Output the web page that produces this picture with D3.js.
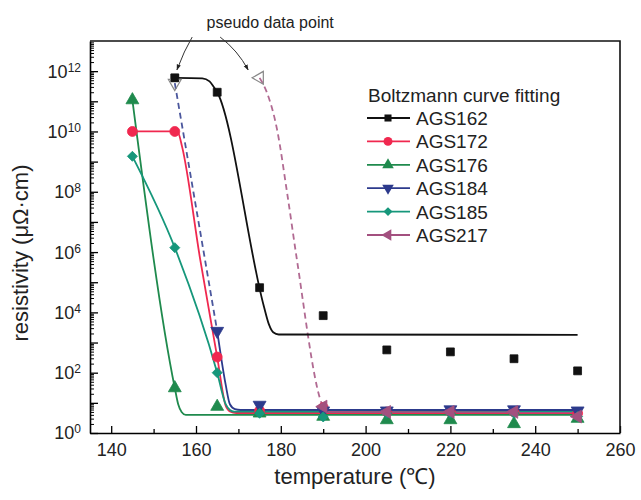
<!DOCTYPE html>
<html><head><meta charset="utf-8">
<script src="https://cdn.jsdelivr.net/npm/d3@7"></script>
<style>body{margin:0;background:#fff;} svg{display:block;font-family:Arial,"Liberation Sans",sans-serif;}</style>
</head><body><svg id="c" width="641" height="500"></svg>
<script>
// ---------- data ----------
const seriesNames = ["AGS162","AGS172","AGS176","AGS184","AGS185","AGS217"];
const ags162T = [155,165,175,190,205,220,235,250];
const ags162R = [6e11,2e11,6.6e4,7.8e3,5.7e2,4.9e2,2.9e2,1.15e2];
const ags172T = [145,155,165,175,190,205,220,235,250];
const ags172R = [1e10,1e10,330,5.5,7,5,5,5,4.5];
const ags176T = [145,155,165,175,190,205,220,235,250];
const ags176R = [1.1e11,31,7.5,4.5,3.5,2.7,2.7,2.0,3.0];
const ags184T = [165,175,190,205,220,235,250];
const ags184R = [2.4e3,8.5,5.5,5.5,6,6,5.5];
const ags185T = [145,155,165,175,190,205,220,235,250];
const ags185R = [1.5e9,1.4e6,100,4.5,3.4,4.5,4.5,4.5,3.5];
const ags217T = [190,205,220,235,250];
const ags217R = [7.5,5,5,5,3.5];
// pseudo (hollow) points: AGS184, AGS217
const pseudoSeries = [3,5];
const pseudoT = [155,175];
const pseudoR = [4e11,6e11];
// Boltzmann fit curves
const fit162T = [155,161.5,163.2,164.2,165,176,177.2,178.2,179.5,250];
const fit162R = [6e11,5.8e11,4.6e11,3e11,2e11,1.6e4,4e3,2.2e3,1.85e3,1.8e3];
const fit172T = [145,155,155.8,156.7,161,165,167,168,169.5,250];
const fit172R = [1e10,1e10,9e9,3.2e9,5.6e5,330,8,5.2,4.6,4.6];
const fit176T = [145,155,155.8,156.6,157.6,250];
const fit176R = [1.1e11,31,9,5,4,4];
const fit184T = [165,167,168,169.2,170.5,250];
const fit184R = [2.4e3,40,9,6.2,5.8,5.8];
const dash184T = [155,165];
const dash184R = [4e11,2.4e3];
const fit185T = [145,155,165,167,168,169,250];
const fit185R = [1.5e9,1.4e6,100,9,5.8,5.1,5];
const dash217T = [175,176.7,179.1,181.5,183.8,189.3,190.3];
const dash217R = [6e11,2e11,1.2e10,9e7,5.6e5,13,5.5];
const fit217T = [190,250];
const fit217R = [5,4.8];
// ticks
const xMajor = [140,160,180,200,220,240,260];
const xMinor = [150,170,190,210,230,250];
const yLabelExp = [0,2,4,6,8,10,12];
// annotation
const annText = "pseudo data point";
const annTextT = 177.5;
const arrowFromT = [159.1,165.7], arrowFromR = [1.35e13,1.35e13];
const arrowToT = [155.5,172.3], arrowToR = [1.1e12,1.1e12];

// ---------- styles ----------
const colors = ["#111111","#f0284f","#1f8a4d","#2c3a8c","#16977b","#a3507f"];
const symbols = [d3.symbolSquare,d3.symbolCircle,d3.symbolTriangle,d3.symbolTriangle,d3.symbolSquare,d3.symbolTriangle];
const rotations = [0,0,0,180,45,-90];
const symSizes = [62,78,72,72,50,72];

const svg = d3.select("#c");
const x = d3.scaleLinear().domain([135,260]).range([90,620]);
const y = d3.scaleLog().domain([1,1e13]).range([433,41]);

const zip = (a,b)=>a.map((v,i)=>[v,b[i]]);

// axes
const gx = svg.append("g").attr("transform","translate(0,433)")
  .call(d3.axisBottom(x).tickValues(xMajor).tickSize(-7).tickSizeOuter(0).tickPadding(10).tickFormat(d3.format("d")));
gx.selectAll(".tick text").attr("font-size","18px").attr("font-family","Arial, Liberation Sans, sans-serif").attr("fill","#222");
gx.select(".domain").attr("stroke-width",1.6);
gx.selectAll(".tick line").attr("stroke-width",1.3);
svg.append("g").attr("transform","translate(0,433)")
  .call(d3.axisBottom(x).tickValues(xMinor).tickSize(-4).tickSizeOuter(0).tickFormat(""))
  .call(g=>g.select(".domain").remove())
  .selectAll(".tick line").attr("stroke-width",1.3);

const decades = d3.range(0,13);
const gy = svg.append("g").attr("transform","translate(90,0)")
  .call(d3.axisLeft(y).tickValues(decades.map(k=>Math.pow(10,k))).tickSize(-8).tickSizeOuter(0).tickPadding(9).tickFormat(""));
gy.select(".domain").attr("stroke-width",1.6);
gy.selectAll(".tick line").attr("stroke-width",1.3);
const minorVals = [];
decades.forEach(k=>{for(let m=2;m<=9;m++) minorVals.push(m*Math.pow(10,k));});
svg.append("g").attr("transform","translate(90,0)")
  .call(d3.axisLeft(y).tickValues(minorVals).tickSize(-4).tickSizeOuter(0).tickFormat(""))
  .call(g=>g.select(".domain").remove())
  .selectAll(".tick line").attr("stroke-width",1);
// y labels with superscripts
const yl = svg.append("g").attr("font-size","18px").attr("fill","#222").attr("text-anchor","end");
yLabelExp.forEach(e=>{
  const t = yl.append("text").attr("x",81).attr("y",y(Math.pow(10,e))).attr("dy","0.36em");
  t.append("tspan").text("10");
  t.append("tspan").attr("dy","-0.5em").attr("font-size","12px").text(e);
});

// frame
svg.append("path").attr("d",`M90,${y(1e13)}H${x(260)}V${y(1)}`).attr("fill","none").attr("stroke","#111").attr("stroke-width",1.6);

// axis titles
svg.append("text").attr("x",(x(135)+x(260))/2).attr("y",484).attr("text-anchor","middle")
  .attr("font-size","22px").attr("fill","#222").text("temperature (℃)");
svg.append("text").attr("transform","translate(28,253) rotate(-90)").attr("text-anchor","middle")
  .attr("font-size","22px").attr("fill","#222").text("resistivity (μΩ·cm)");

// fits
const line = d3.line().x(d=>x(d[0])).y(d=>y(d[1])).curve(d3.curveMonotoneX);
const fits = [
  {d:zip(fit162T,fit162R),c:0},{d:zip(fit172T,fit172R),c:1},{d:zip(fit176T,fit176R),c:2},
  {d:zip(fit184T,fit184R),c:3},{d:zip(fit185T,fit185R),c:4},{d:zip(fit217T,fit217R),c:5}
];
const dashes = [{d:zip(dash184T,dash184R),c:3},{d:zip(dash217T,dash217R),c:5}];
svg.append("g").selectAll("path").data(dashes).join("path")
  .attr("d",s=>line(s.d)).attr("fill","none").attr("stroke",s=>colors[s.c])
  .attr("stroke-width",1.8).attr("stroke-dasharray","6,4").attr("opacity",0.85);
svg.append("g").selectAll("path").data(fits).join("path")
  .attr("d",s=>line(s.d)).attr("fill","none").attr("stroke",s=>colors[s.c]).attr("stroke-width",1.8);

// markers
const pts = [zip(ags162T,ags162R),zip(ags172T,ags172R),zip(ags176T,ags176R),zip(ags184T,ags184R),zip(ags185T,ags185R),zip(ags217T,ags217R)];
const mg = svg.append("g");
pts.forEach((arr,i)=>{
  mg.append("g").selectAll("path").data(arr).join("path")
    .attr("d",d3.symbol(symbols[i],symSizes[i]))
    .attr("transform",d=>`translate(${x(d[0])},${y(d[1])}) rotate(${rotations[i]})`)
    .attr("fill",colors[i]).attr("stroke",colors[i]).attr("stroke-width",0.8);
});
pseudoSeries.forEach((si,j)=>{
  mg.append("path").attr("d",d3.symbol(symbols[si],symSizes[si])())
    .attr("transform",`translate(${x(pseudoT[j])},${y(pseudoR[j])}) rotate(${rotations[si]})`)
    .attr("fill","none").attr("stroke","#888").attr("stroke-width",1.2);
});
// redraw AGS162 pseudo square on top
mg.append("path").attr("d",d3.symbol(symbols[0],symSizes[0])())
  .attr("transform",`translate(${x(ags162T[0])},${y(ags162R[0])})`).attr("fill",colors[0]);

// annotation
svg.append("defs").append("marker").attr("id","ah").attr("viewBox","0 0 10 10")
  .attr("refX",9).attr("refY",5).attr("markerWidth",6).attr("markerHeight",6).attr("orient","auto")
  .append("path").attr("d","M0,1.5L10,5L0,8.5Z").attr("fill","#222");
svg.append("text").attr("x",x(annTextT)).attr("y",28).attr("text-anchor","middle")
  .attr("font-size","16px").attr("fill","#222").text(annText);
arrowFromT.forEach((t,i)=>{
  const x0=x(t), y0=y(arrowFromR[i]), x1=x(arrowToT[i]), y1=y(arrowToR[i]);
  const mx=(x0+x1)/2 + (i===0?-2:2), my=(y0+y1)/2 - 3;
  svg.append("path").attr("d",`M${x0},${y0}Q${mx+(y1-y0)*0.05},${my} ${x1},${y1}`)
    .attr("fill","none").attr("stroke","#333").attr("stroke-width",1).attr("marker-end","url(#ah)");
});

// legend
const lg = svg.append("g").attr("transform","translate(368,0)");
lg.append("text").attr("x",0).attr("y",102).attr("font-size","19px").attr("fill","#222").text("Boltzmann curve fitting");
seriesNames.forEach((n,i)=>{
  const cy = 118 + i*23.4;
  lg.append("line").attr("x1",-1).attr("x2",42).attr("y1",cy).attr("y2",cy).attr("stroke",colors[i]).attr("stroke-width",1.8);
  lg.append("path").attr("d",d3.symbol(symbols[i],symSizes[i]*0.8)())
    .attr("transform",`translate(20,${cy}) rotate(${rotations[i]})`).attr("fill",colors[i]);
  lg.append("text").attr("x",48).attr("y",cy+7).attr("font-size","19px").attr("fill","#222").text(n);
});
</script></body></html>
